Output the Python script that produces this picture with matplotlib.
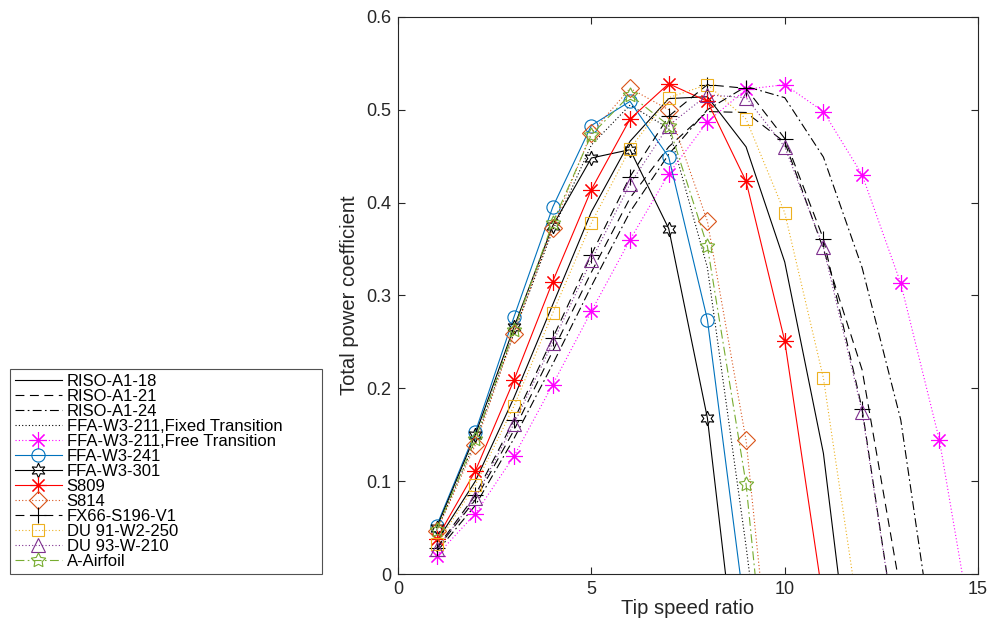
import matplotlib
matplotlib.use("Agg")
import matplotlib.pyplot as plt

plt.rcParams['font.family'] = ['Liberation Sans', 'DejaVu Sans']

# tip speed ratio samples shared by every airfoil
tsr = list(range(1, 16))

# power coefficient per airfoil (values below zero fall outside the axes)
riso_a1_18 = [0.035, 0.100, 0.190, 0.290, 0.390, 0.466, 0.512, 0.514, 0.460, 0.336, 0.130, -0.210]
riso_a1_21 = [0.027, 0.080, 0.155, 0.240, 0.325, 0.405, 0.460, 0.498, 0.497, 0.465, 0.350, 0.220, -0.020]
riso_a1_24 = [0.024, 0.074, 0.146, 0.226, 0.310, 0.390, 0.452, 0.500, 0.525, 0.513, 0.449, 0.330, 0.166, -0.120]
ffa_211_fixed = [0.047, 0.143, 0.260, 0.370, 0.462, 0.505, 0.480, 0.330, 0.030, -0.300]
ffa_211_free = [0.020, 0.065, 0.127, 0.204, 0.283, 0.360, 0.431, 0.487, 0.522, 0.527, 0.498, 0.430, 0.313, 0.144, -0.100]
ffa_241 = [0.052, 0.153, 0.277, 0.395, 0.483, 0.509, 0.449, 0.274, -0.050]
ffa_301 = [0.050, 0.150, 0.266, 0.375, 0.448, 0.457, 0.372, 0.168, -0.190]
s809 = [0.038, 0.111, 0.209, 0.315, 0.414, 0.490, 0.528, 0.509, 0.423, 0.251, -0.030]
s814 = [0.046, 0.139, 0.259, 0.373, 0.475, 0.523, 0.500, 0.380, 0.144, -0.260]
fx66 = [0.028, 0.085, 0.166, 0.254, 0.344, 0.428, 0.493, 0.527, 0.523, 0.469, 0.361, 0.178, -0.100]
du91 = [0.032, 0.096, 0.181, 0.281, 0.378, 0.458, 0.513, 0.527, 0.490, 0.389, 0.211, -0.070]
du93 = [0.027, 0.082, 0.162, 0.249, 0.338, 0.420, 0.483, 0.516, 0.513, 0.460, 0.352, 0.175, -0.100]
a_airfoil = [0.048, 0.145, 0.263, 0.378, 0.473, 0.516, 0.483, 0.353, 0.097, -0.320]

labels = ["RISO-A1-18", "RISO-A1-21", "RISO-A1-24",
          "FFA-W3-211,Fixed Transition", "FFA-W3-211,Free Transition",
          "FFA-W3-241", "FFA-W3-301", "S809", "S814", "FX66-S196-V1",
          "DU 91-W2-250", "DU 93-W-210", "A-Airfoil"]

asterisk = (8, 2, 0)
hexagram = (6, 1, 0)
pentagram = (5, 1, 0)

# (data, colour, linestyle, marker, markersize)
styles = [
    (riso_a1_18, "k", "-", None, 0),
    (riso_a1_21, "k", (0, (8, 5)), None, 0),
    (riso_a1_24, "k", (0, (8, 3, 1.5, 3)), None, 0),
    (ffa_211_fixed, "k", (0, (1, 2)), None, 0),
    (ffa_211_free, "#FF00FF", (0, (1, 2)), asterisk, 12),
    (ffa_241, "#0072BD", "-", "o", 9.5),
    (ffa_301, "k", "-", hexagram, 10.5),
    (s809, "#FF0000", "-", asterisk, 12),
    (s814, "#D95319", (0, (1, 2)), "D", 9),
    (fx66, "k", (0, (8, 5)), "+", 12),
    (du91, "#EDB120", (0, (1, 2)), "s", 8.5),
    (du93, "#7E2F8E", (0, (1, 2)), "^", 10),
    (a_airfoil, "#77AC30", (0, (8, 3, 1.5, 3)), pentagram, 11),
]

fig = plt.figure(figsize=(9.9, 6.24), dpi=100)
ax = fig.add_axes([0.402, 0.080, 0.586, 0.893])

for (vals, col, ls, mk, ms), lab in zip(styles, labels):
    ax.plot(tsr[:len(vals)], vals, color=col, linestyle=ls, linewidth=0.8,
            marker=mk, markersize=ms, markerfacecolor="none",
            markeredgecolor=col, markeredgewidth=0.8, label=lab)

ax.set_xlim(0, 15)
ax.set_ylim(0, 0.6)
ax.set_xticks([0, 5, 10, 15])
ax.set_yticks([0, 0.1, 0.2, 0.3, 0.4, 0.5, 0.6])
ax.set_yticklabels(["0", "0.1", "0.2", "0.3", "0.4", "0.5", "0.6"])
ax.tick_params(direction="in", top=True, right=True, length=5, width=0.8,
               labelsize=13, colors="#262626", pad=5)
for sp in ax.spines.values():
    sp.set_color("#262626")
    sp.set_linewidth(0.8)
ax.set_xlabel("Tip speed ratio", fontsize=14.5, color="#262626", labelpad=1)
ax.set_ylabel("Total power coefficient", fontsize=14.5, color="#262626", labelpad=5)

# legend box sits outside the axes, in the lower left corner of the figure
leg = fig.legend(loc="lower left", mode="expand",
                 bbox_to_anchor=(10 / 990, 50 / 624, 312 / 990, 202 / 624),
                 fontsize=12, frameon=True, fancybox=False, handlelength=2.8,
                 handletextpad=0.3, labelspacing=0.0, borderpad=0.3,
                 borderaxespad=0)
leg.get_frame().set_edgecolor("#262626")
leg.get_frame().set_linewidth(0.8)

fig.savefig("out.png", dpi=100)
